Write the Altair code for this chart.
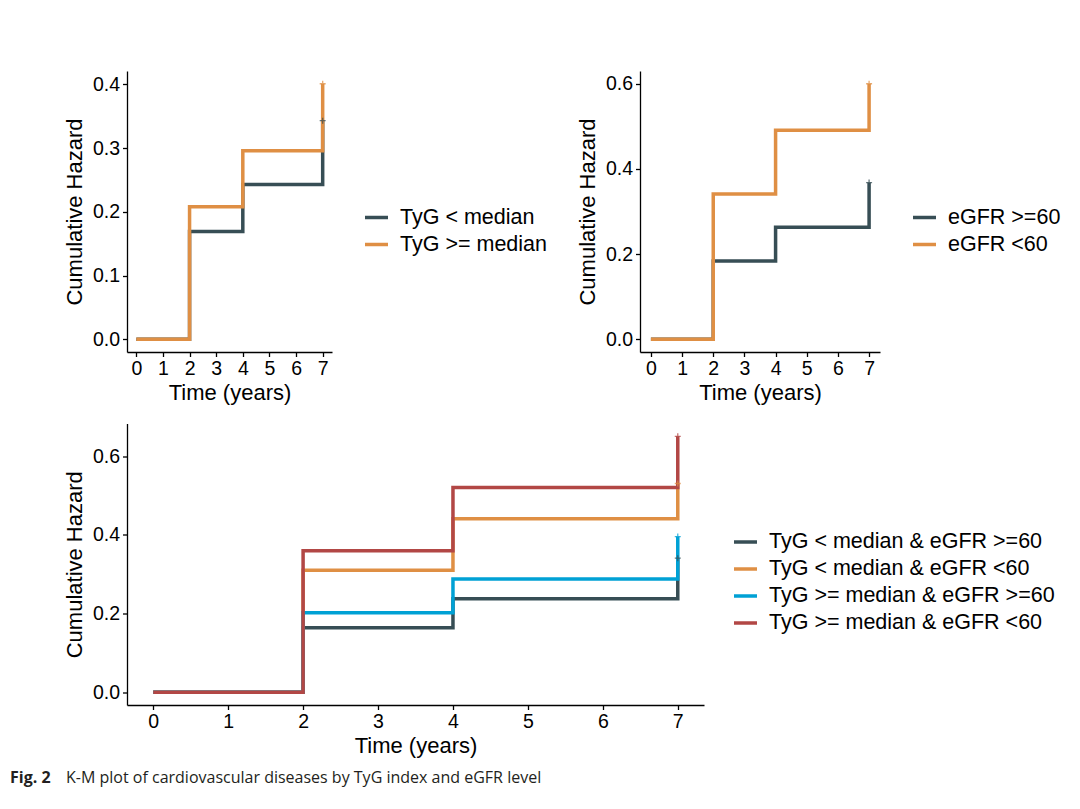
import altair as alt
import pandas as pd

# ---------------- data ----------------
times = [0, 2, 4, 7]
x_ticks = [0, 1, 2, 3, 4, 5, 6, 7]

# Panel A: TyG
tyg_labels = ["TyG < median", "TyG >= median"]
tyg_low = [0.0, 0.169, 0.243, 0.343]
tyg_high = [0.0, 0.208, 0.296, 0.401]
y_ticks_a = [0.0, 0.1, 0.2, 0.3, 0.4]

# Panel B: eGFR
egfr_labels = ["eGFR >=60", "eGFR <60"]
egfr_high = [0.0, 0.184, 0.263, 0.368]
egfr_low = [0.0, 0.341, 0.491, 0.600]
y_ticks_b = [0.0, 0.2, 0.4, 0.6]

# Panel C: combined
combo_labels = [
    "TyG < median & eGFR >=60",
    "TyG < median & eGFR <60",
    "TyG >= median & eGFR >=60",
    "TyG >= median & eGFR <60",
]
combo_low_high = [0.0, 0.164, 0.238, 0.341]
combo_low_low = [0.0, 0.310, 0.441, 0.531]
combo_high_high = [0.0, 0.202, 0.288, 0.396]
combo_high_low = [0.0, 0.360, 0.521, 0.651]
y_ticks_c = [0.0, 0.2, 0.4, 0.6]

palette = ["#374E55", "#DF8F44", "#00A1D5", "#B24745"]

caption_bold = ["Fig. 2"]
caption_text = ["K-M plot of cardiovascular diseases by TyG index and eGFR level"]

FONT = "Liberation Sans"
PLUS = "M-1,0L1,0M0,-1L0,1"


def long_df(labels, series):
    rows = []
    for lab, vals in zip(labels, series):
        for t, v in zip(times, vals):
            rows.append({"time": t, "hazard": v, "group": lab})
    return pd.DataFrame(rows)


def panel(labels, series, colors, y_domain, y_ticks, lx, ly):
    df = long_df(labels, series)
    x = alt.X(
        "time:Q",
        scale=alt.Scale(domain=[-0.35, 7.35], nice=False, zero=False),
        axis=alt.Axis(values=x_ticks, format="d", title="Time (years)", titlePadding=4),
    )
    y = alt.Y(
        "hazard:Q",
        scale=alt.Scale(domain=y_domain, nice=False, zero=False),
        axis=alt.Axis(values=y_ticks, format=".1f", title="Cumulative Hazard", titlePadding=6),
    )
    cscale = alt.Scale(domain=labels, range=colors)
    lines = (
        alt.Chart(df)
        .mark_line(interpolate="step-after", strokeWidth=3.5)
        .encode(
            x=x,
            y=y,
            color=alt.Color(
                "group:N",
                scale=cscale,
                sort=labels,
                legend=alt.Legend(title=None, orient="none", legendX=lx, legendY=ly),
            ),
        )
    )
    ends = (
        alt.Chart(df)
        .transform_filter(alt.datum.time == 7)
        .mark_point(shape=PLUS, filled=False, size=36, strokeWidth=1.3, opacity=0.75)
        .encode(x=x, y=y, color=alt.Color("group:N", scale=cscale, legend=None))
    )
    return [lines, ends]


la = panel(tyg_labels, [tyg_low, tyg_high], palette[:2], [-0.02, 0.421], y_ticks_a, 236, 133)
lb = panel(egfr_labels, [egfr_high, egfr_low], palette[:2], [-0.03, 0.63], y_ticks_b, 271, 133)
lc = panel(combo_labels, [combo_low_high, combo_low_low, combo_high_high, combo_high_low], palette,
           [-0.0326, 0.6836], y_ticks_c, 605, 105)

cap_df = pd.DataFrame({"bold": caption_bold, "text": caption_text})
cap_b = alt.Chart(cap_df).mark_text(
    align="left", baseline="middle", font="Open Sans", fontSize=16, fontWeight="bold", color="#231F20"
).encode(text="bold:N", x=alt.value(-117), y=alt.value(354.5))
cap_t = alt.Chart(cap_df).mark_text(
    align="left", baseline="middle", font="Open Sans", fontSize=16, color="#231F20"
).encode(text="text:N", x=alt.value(-61), y=alt.value(354.5))

p1 = alt.layer(*la).properties(width=205, height=281)
p2 = alt.layer(*lb).properties(width=240, height=281)
p3 = alt.layer(*lc, cap_b, cap_t).properties(width=577, height=281.5)

top = (
    alt.hconcat(p1, p2, spacing=308, bounds="flush")
    .resolve_scale(x="independent", y="independent", color="independent")
    .resolve_legend(color="independent")
)

chart = (
    alt.vconcat(top, p3, spacing=352.5, bounds="flush")
    .resolve_scale(x="independent", y="independent", color="independent")
    .resolve_legend(color="independent")
    .properties(padding={"left": 2, "top": 63, "right": 5, "bottom": 5}, background="white")
    .configure_view(stroke=None)
    .configure_axis(
        grid=False,
        domainColor="black",
        domainWidth=1.3,
        tickColor="black",
        tickWidth=1.3,
        tickSize=4.5,
        labelFont=FONT,
        labelFontSize=19.5,
        labelColor="black",
        labelPadding=3,
        titleFont=FONT,
        titleFontSize=22,
        titleFontWeight="normal",
        titleColor="black",
    )
    .configure_legend(
        labelFont=FONT,
        labelFontSize=21.5,
        labelColor="black",
        labelLimit=500,
        symbolType="stroke",
        symbolSize=529,
        symbolStrokeWidth=3.5,
        labelOffset=10,
        rowPadding=3,
        padding=0,
    )
)

chart.save("out.html", embed_options={"renderer": "svg", "actions": False})
